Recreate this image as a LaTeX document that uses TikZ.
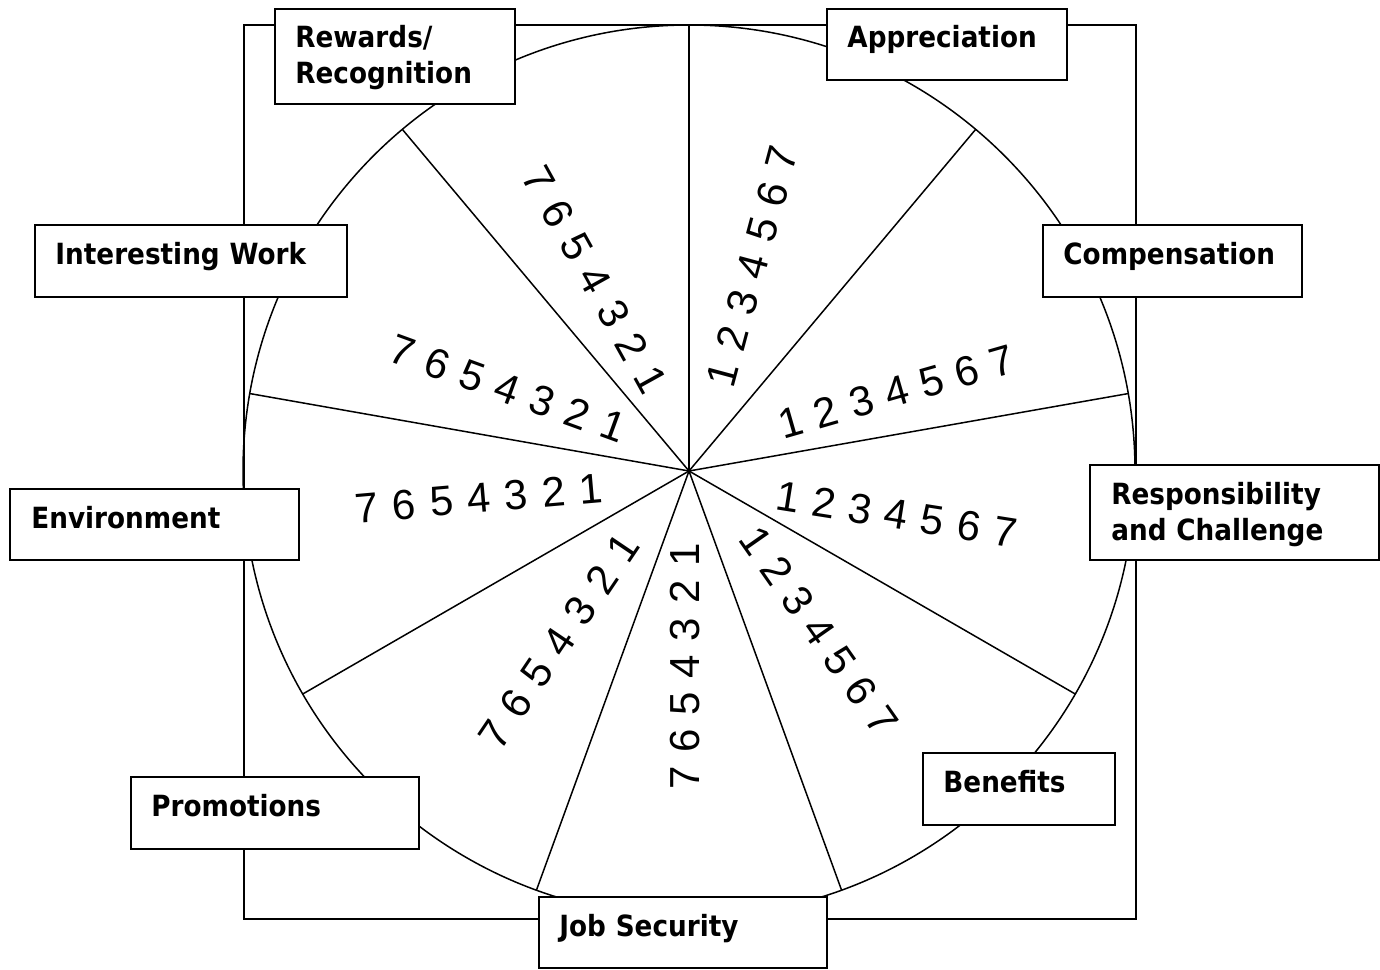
\documentclass[tikz,border=0pt]{standalone}
\usepackage{fontspec}
\setmainfont{Liberation Sans}
\newfontfamily\lblfont[FakeStretch=0.9]{DejaVu Sans}
\usetikzlibrary{calc}
\begin{document}
\begin{tikzpicture}[x=0.5pt,y=-0.5pt,
  frame/.style={draw=black,line width=1pt},
  wheel/.style={draw=black,line width=0.75pt},
  lblbox/.style={draw=black,line width=1.2pt,fill=white,inner sep=0pt,anchor=north west},
  lbltext/.style={inner sep=0pt,anchor=base west,text width=150pt,align=left,
    font=\lblfont\bfseries\fontsize{14.6}{18}\selectfont},
  dig/.style={inner sep=0pt,font=\fontsize{21}{21}\selectfont}]
\useasboundingbox (0,0) rectangle (1380,969);
% frame and wheel
\node[frame,inner sep=0pt,minimum width=446pt,minimum height=447pt,anchor=north west] (sq) at (243,24) {};
\coordinate (c) at (689,471);
\draw[wheel] (c) circle[radius=223pt];
\foreach \a [count=\k] in {90,50,10,-30,-70,-110,-150,170,130}{
  \coordinate (e\k) at ($(c)+(\a:223pt)$);
  \draw[wheel] (c) -- (e\k);
}
% scales
\foreach \n/\xa/\ya/\xb/\yb/\r in {
  A/723/374/782/158/75,
  B/791/422/1002/361/16,
  C/788/497/1005/532/-9,
  D/756/541/882/721/-55,
  E/685/555/685/778/90,
  F/623/548/495/735/56,
  G/591/489/367/508/5,
  H/613/426/402/351/-20,
  I/651/380/539/180/-61}{
  \foreach \i in {1,...,7}{
    \node[dig,rotate=\r] (d\n\i) at ($(\xa,\ya)!{(\i-1)/6}!(\xb,\yb)$) {\i};
  }
}
% label boxes
\node[lblbox,minimum width=120pt,minimum height=47.5pt] (bRew) at (274,8) {};
\node[lblbox,minimum width=120pt,minimum height=35.5pt] (bApp) at (826,8) {};
\node[lblbox,minimum width=129.5pt,minimum height=36pt] (bComp) at (1042,224) {};
\node[lblbox,minimum width=156pt,minimum height=36pt] (bInt) at (34,224) {};
\node[lblbox,minimum width=144.5pt,minimum height=47.5pt] (bResp) at (1089,464) {};
\node[lblbox,minimum width=144.5pt,minimum height=35.5pt] (bEnv) at (9,488) {};
\node[lblbox,minimum width=96pt,minimum height=36pt] (bBen) at (922,752) {};
\node[lblbox,minimum width=144pt,minimum height=36pt] (bProm) at (130,776) {};
\node[lblbox,minimum width=144pt,minimum height=35.5pt] (bJob) at (538,896) {};
% label texts
\node[lbltext] (tRew) at (295,47) {Rewards/\\Recognition};
\node[lbltext] (tApp) at (847,47) {Appreciation};
\node[lbltext] (tComp) at (1063,264) {Compensation};
\node[lbltext] (tInt) at (55,264) {Interesting Work};
\node[lbltext] (tResp) at (1111,504) {Responsibility\\and Challenge};
\node[lbltext] (tEnv) at (31,528) {Environment};
\node[lbltext] (tBen) at (943,792) {Benefits};
\node[lbltext] (tProm) at (151,816) {Promotions};
\node[lbltext] (tJob) at (559,936) {Job Security};
\end{tikzpicture}
\end{document}
